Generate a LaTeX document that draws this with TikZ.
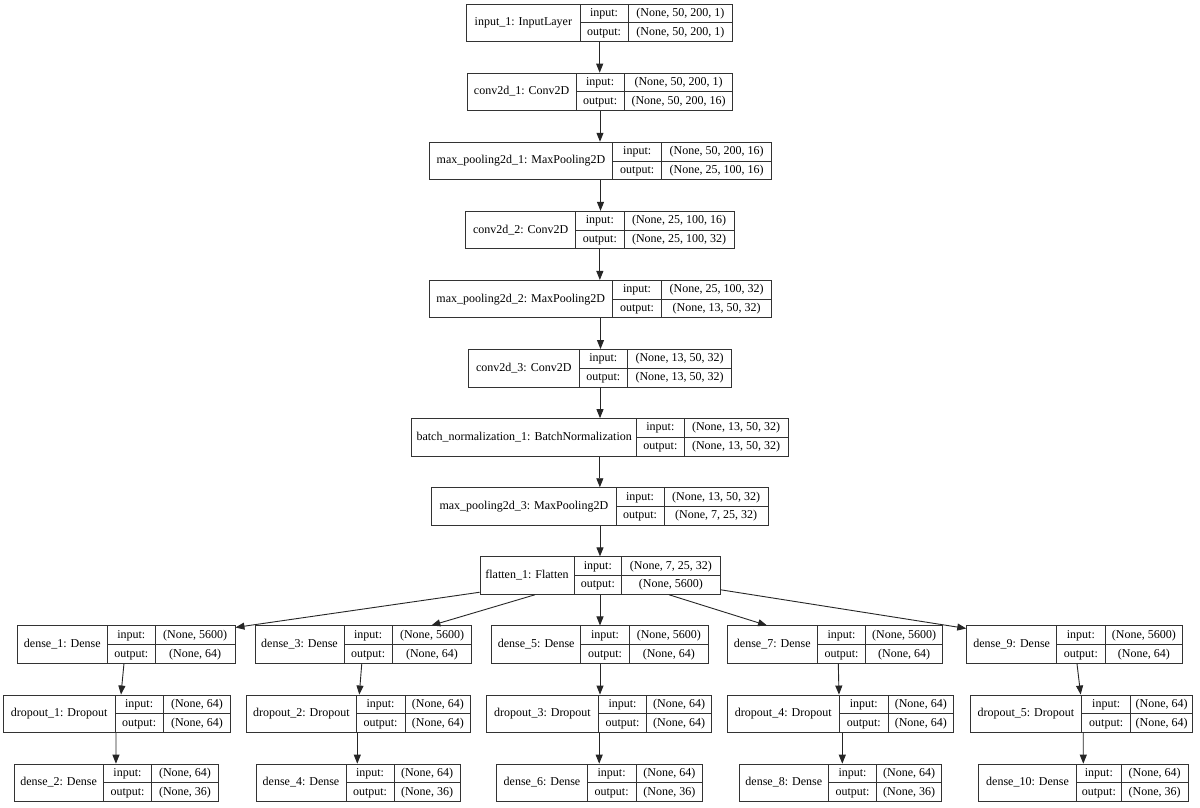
\documentclass[tikz,border=0pt]{standalone}
\usepackage{fontspec}
\setmainfont{Liberation Serif}
\usetikzlibrary{arrows.meta,fit}
\tikzset{
  box/.style={draw=black!80, line width=0.9pt, inner sep=0pt},
  cell/.style={draw=black!80, line width=0.9pt},
  txt/.style={inner sep=0pt, font=\fontsize{12}{14}\selectfont, text height=8.6pt, text depth=2.6pt},
  arr/.style={draw=black!85, line width=0.9pt, -{Triangle[length=9pt,width=7pt]}},
}
% id, left, divider1, divider2, right, top, name, in, out
\newcommand\layer[9]{%
  \pgfmathsetmacro\lyB{#6+37.5}%
  \pgfmathsetmacro\lyM{#6+18.75}%
  \pgfmathsetmacro\lyI{#6+9.375}%
  \pgfmathsetmacro\lyO{#6+28.125}%
  \pgfmathsetmacro\lxN{(#2+#3)/2}%
  \pgfmathsetmacro\lxL{(#3+#4)/2}%
  \pgfmathsetmacro\lxV{(#4+#5)/2}%
  \node[box, fit={(#2,#6)(#5,\lyB)}] (#1) {};
  \draw[cell] (#3,#6) -- (#3,\lyB) (#4,#6) -- (#4,\lyB) (#3,\lyM) -- (#5,\lyM);
  \node[txt] (#1-n) at (\lxN,\lyM) {#7};
  \node[txt] (#1-il) at (\lxL,\lyI) {input:};
  \node[txt] (#1-ol) at (\lxL,\lyO) {output:};
  \node[txt] (#1-iv) at (\lxV,\lyI) {#8};
  \node[txt] (#1-ov) at (\lxV,\lyO) {#9};
}
\begin{document}
\begin{tikzpicture}[x=1pt,y=-1pt]
\fill[white] (0,0) rectangle (1200,807);
\useasboundingbox (0,0) rectangle (1200,807);

\layer{in1}{466.7}{580}{628}{732.7}{4}{input\_1: InputLayer}{(None, 50, 200, 1)}{(None, 50, 200, 1)}
\layer{c1}{467.3}{576}{624.3}{732.7}{73.1}{conv2d\_1: Conv2D}{(None, 50, 200, 1)}{(None, 50, 200, 16)}
\layer{mp1}{429.3}{612.7}{661.7}{771.7}{142.2}{max\_pooling2d\_1: MaxPooling2D}{(None, 50, 200, 16)}{(None, 25, 100, 16)}
\layer{c2}{465.7}{575.7}{624}{734}{211.3}{conv2d\_2: Conv2D}{(None, 25, 100, 16)}{(None, 25, 100, 32)}
\layer{mp2}{429.3}{612.3}{661.7}{771.7}{280.4}{max\_pooling2d\_2: MaxPooling2D}{(None, 25, 100, 32)}{(None, 13, 50, 32)}
\layer{c3}{468.3}{579.3}{627.3}{731.7}{349.5}{conv2d\_3: Conv2D}{(None, 13, 50, 32)}{(None, 13, 50, 32)}
\layer{bn}{411.7}{636.7}{684}{788}{418.6}{batch\_normalization\_1: BatchNormalization}{(None, 13, 50, 32)}{(None, 13, 50, 32)}
\layer{mp3}{431.7}{616}{664}{768.3}{487.7}{max\_pooling2d\_3: MaxPooling2D}{(None, 13, 50, 32)}{(None, 7, 25, 32)}
\layer{fl}{480}{574}{621.7}{720}{556.8}{flatten\_1: Flatten}{(None, 7, 25, 32)}{(None, 5600)}

\layer{d1}{17.3}{107.3}{155.3}{235}{625.9}{dense\_1: Dense}{(None, 5600)}{(None, 64)}
\layer{d3}{255}{344}{392.3}{471.7}{625.9}{dense\_3: Dense}{(None, 5600)}{(None, 64)}
\layer{d5}{491.7}{580.7}{629.3}{708.3}{625.9}{dense\_5: Dense}{(None, 5600)}{(None, 64)}
\layer{d7}{727.3}{817.3}{865.7}{942.7}{625.9}{dense\_7: Dense}{(None, 5600)}{(None, 64)}
\layer{d9}{966.7}{1056.7}{1105}{1182.7}{625.9}{dense\_9: Dense}{(None, 5600)}{(None, 64)}

\layer{dr1}{3.3}{115}{163.3}{230.7}{695}{dropout\_1: Dropout}{(None, 64)}{(None, 64)}
\layer{dr2}{246.7}{356}{405}{470.7}{695}{dropout\_2: Dropout}{(None, 64)}{(None, 64)}
\layer{dr3}{486.7}{598.3}{646.7}{711.7}{695}{dropout\_3: Dropout}{(None, 64)}{(None, 64)}
\layer{dr4}{727.3}{839.3}{888.3}{953.3}{695}{dropout\_4: Dropout}{(None, 64)}{(None, 64)}
\layer{dr5}{970}{1081.7}{1130.7}{1192.7}{695}{dropout\_5: Dropout}{(None, 64)}{(None, 64)}

\layer{d2}{14}{103.3}{151.7}{218.3}{764.1}{dense\_2: Dense}{(None, 64)}{(None, 36)}
\layer{d4}{256}{346}{394}{460}{764.1}{dense\_4: Dense}{(None, 64)}{(None, 36)}
\layer{d6}{496.7}{587.3}{636}{702.7}{764.1}{dense\_6: Dense}{(None, 64)}{(None, 36)}
\layer{d8}{739.3}{828.3}{876.7}{941.7}{764.1}{dense\_8: Dense}{(None, 64)}{(None, 36)}
\layer{d10}{978.3}{1076.7}{1121}{1188.3}{764.1}{dense\_10: Dense}{(None, 64)}{(None, 36)}

% main chain
\draw[arr] (in1.south) -- (in1.south |- c1.north);
\draw[arr] (c1.south) -- (c1.south |- mp1.north);
\draw[arr] (mp1.south) -- (mp1.south |- c2.north);
\draw[arr] (c2.south) -- (c2.south |- mp2.north);
\draw[arr] (mp2.south) -- (mp2.south |- c3.north);
\draw[arr] (c3.south) -- (c3.south |- bn.north);
\draw[arr] (bn.south) -- (bn.south |- mp3.north);
\draw[arr] (mp3.south) -- (mp3.south |- fl.north);

% fan-out from flatten
\draw[arr] ([yshift=2.5pt]fl.south west) -- ([yshift=-2pt]d1.north east);
\draw[arr] ([xshift=-65pt]fl.south) -- ([xshift=68pt]d3.north);
\draw[arr] (fl.south) -- (fl.south |- d5.north);
\draw[arr] ([xshift=69pt]fl.south) -- ([xshift=-68pt]d7.north);
\draw[arr] ([yshift=5pt]fl.south east) -- ([yshift=-3pt]d9.north west);

% branches
\draw[arr] ([xshift=-2.2pt]d1.south) -- ([xshift=4pt]dr1.north);
\draw[arr] ([xshift=-1pt]dr1.south) -- ([xshift=-0.2pt]d2.north);
\draw[arr] ([xshift=-1.6pt]d3.south) -- ([xshift=0.6pt]dr2.north);
\draw[arr] ([xshift=-1.4pt]dr2.south) -- ([xshift=-0.7pt]d4.north);
\draw[arr] (d5.south) -- (d5.south |- dr3.north);
\draw[arr] (dr3.south) -- (dr3.south |- d6.north);
\draw[arr] ([xshift=3.3pt]d7.south) -- ([xshift=-1.3pt]dr4.north);
\draw[arr] ([xshift=2pt]dr4.south) -- ([xshift=1.8pt]d8.north);
\draw[arr] ([xshift=2.3pt]d9.south) -- ([xshift=-0.7pt]dr5.north);
\draw[arr] ([xshift=1.9pt]dr5.south) -- (d10.north);
\end{tikzpicture}
\end{document}
